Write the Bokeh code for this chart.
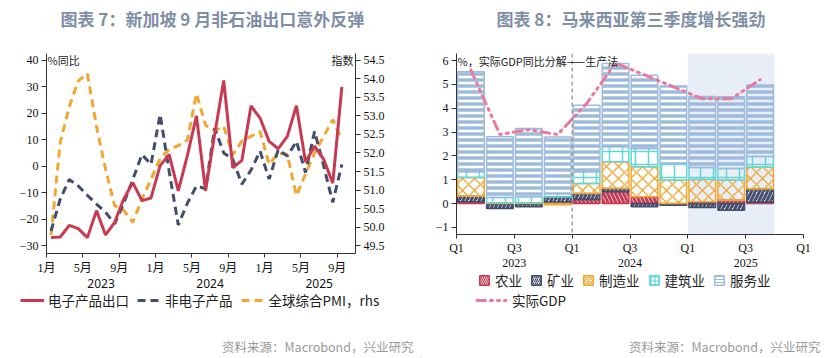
from bokeh.plotting import figure
from bokeh.models import (Range1d, LinearAxis, FixedTicker, Legend, LegendItem, Label, Span,
                          BoxAnnotation, NumeralTickFormatter, ColumnDataSource)
from bokeh.layouts import row, column
from bokeh.embed import file_html
from bokeh.resources import INLINE

SERIF = "'Liberation Serif', 'Noto Sans CJK SC'"
CJK = "'Noto Sans CJK SC'"
TITLE_COLOR = "#7f8fa6"
SRC_COLOR = "#9a9a9a"
AXIS_COLOR = "#333333"

# ---------------- Chart 7 data: Singapore non-oil exports ----------------
months = [f"{y}-{m:02d}" for y in (2023, 2024, 2025) for m in range(1, 13)][:33]
electronics = [-27, -26.8, -22.4, -23.6, -27, -16.8, -26, -21.2, -12.4, -6.2, -13, -12,
               0.2, 4.4, -9.3, 4, 19, -9.3, 12, 32.4, -0.6, 2.2, 22.8, 18.2,
               9.4, 6.6, 11.3, 22.9, 1.6, 7.6, 2.6, -6.4, 30]
non_electronics = [-24.5, -12.5, -5, -7.5, -11, -14.3, -17.4, -21.8, -14, -5, 4.4, 0.7,
                   19.6, -2, -22.2, -14, -7.5, -8.5, 14.4, 5, 2.6, -6.8, -1.5, 5.7,
                   -4.9, 6.3, 3.8, 9.4, -2.4, 13.2, 0.1, -13.7, 0.7]
global_pmi = [49.78, 52.27, 53.25, 53.95, 54.14, 52.72, 51.56, 50.58, 50.45, 50.13, 50.75, 51.29,
              51.85, 52.1, 52.2, 52.35, 53.6, 52.75, 52.6, 52.72, 51.95, 52.32, 52.45, 52.58,
              51.69, 52.0, 51.96, 50.85, 51.43, 52.0, 52.45, 52.9, 52.36]
month_tick_labels = ["1月", "5月", "9月"]
years7 = ["2023", "2024", "2025"]
left_ticks7 = [-30, -20, -10, 0, 10, 20, 30, 40]
right_ticks7 = [49.5, 50.0, 50.5, 51.0, 51.5, 52.0, 52.5, 53.0, 53.5, 54.0, 54.5]

# ---------------- Chart 8 data: Malaysia GDP by production ----------------
quarters = ["2023Q1", "2023Q2", "2023Q3", "2023Q4", "2024Q1", "2024Q2", "2024Q3", "2024Q4",
            "2025Q1", "2025Q2", "2025Q3"]
agriculture = [0.07, -0.03, -0.03, 0.05, 0.17, 0.49, 0.28, -0.05, 0.07, 0.14, 0.05]
mining = [0.24, -0.18, -0.11, 0.22, 0.25, 0.14, -0.14, -0.02, -0.17, -0.28, 0.56]
manufacturing = [0.78, 0.03, 0.03, -0.05, 0.42, 1.12, 1.26, 0.98, 0.94, 0.84, 0.91]
construction = [0.24, 0.22, 0.25, 0.14, 0.49, 0.63, 0.77, 0.70, 0.50, 0.49, 0.45]
services = [4.20, 2.55, 2.87, 2.38, 2.80, 3.50, 3.08, 3.26, 2.98, 3.01, 3.01]
real_gdp = [5.6, 2.9, 3.1, 2.9, 4.2, 5.9, 5.4, 4.9, 4.4, 4.4, 5.2]
q_tick_labels = ["Q1", "Q3"]
years8 = ["2023", "2024", "2025"]
y_ticks8 = [-1, 0, 1, 2, 3, 4, 5, 6]

RED = "#c73a52"
NAVY = "#434e6c"
ORANGE = "#f0a832"
CYAN = "#62d6d6"
LBLUE = "#9fbbdc"
PINK = "#e87a9f"

SECTOR_STYLE = [("农业", agriculture, RED, "left_diagonal_line", 8, 3),
                ("矿业", mining, NAVY, "right_diagonal_line", 8, 3),
                ("制造业", manufacturing, ORANGE, "diagonal_cross", 12, 1.3),
                ("建筑业", construction, CYAN, "cross", 13, 1.5),
                ("服务业", services, LBLUE, "horizontal_line", 6, 3.5)]


def style_axis(ax, font=SERIF, size="12px"):
    ax.axis_line_color = AXIS_COLOR
    ax.major_tick_line_color = AXIS_COLOR
    ax.minor_tick_line_color = None
    ax.minor_tick_out = 0
    ax.minor_tick_in = 0
    ax.major_tick_in = 0
    ax.major_tick_out = 5
    ax.major_label_text_font = font
    ax.major_label_text_font_size = size
    ax.major_label_text_color = "#111111"
    ax.major_label_standoff = 3


def year_axis(ticks, labels, font):
    ax = LinearAxis(ticker=FixedTicker(ticks=ticks),
                    major_label_overrides={t: l for t, l in zip(ticks, labels)})
    style_axis(ax, font=font, size="12px")
    ax.axis_line_color = None
    ax.major_tick_line_color = None
    ax.major_tick_out = 0
    ax.major_label_standoff = 1
    return ax


def blank_fig(h):
    f = figure(width=420, height=h, output_backend="svg", toolbar_location=None,
               x_range=Range1d(0, 420), y_range=Range1d(0, h),
               x_axis_type=None, y_axis_type=None,
               min_border_left=0, min_border_right=0, min_border_top=0, min_border_bottom=0)
    f.frame_align = False
    f.outline_line_color = None
    f.grid.visible = False
    return f


def title_fig(text, x):
    f = blank_fig(40)
    f.add_layout(Label(x=x, y=22, text=text, text_align="left", text_baseline="middle",
                       text_font=CJK, text_font_size="17px", text_font_style="bold",
                       text_color=TITLE_COLOR))
    return f


def add_source(f, x, y):
    f.add_layout(Label(x=x, y=y, text="资料来源：Macrobond，兴业研究", text_align="right",
                       text_baseline="middle", text_font=CJK, text_font_size="12.5px",
                       text_color=SRC_COLOR))


def make_legend(items, loc, **kw):
    return Legend(items=items, orientation="horizontal", location=loc,
                  background_fill_alpha=0, border_line_alpha=0, padding=0, margin=0,
                  label_text_font=CJK, label_text_font_size="13.5px",
                  label_text_color="#222222", **kw)


# hidden legend-key glyphs sit outside the blank panels' visible ranges
KEY_X = [-60, -50]
KEY_Y = [-60, -60]

# ================= Figure 7 =================
x7 = [(int(m[:4]) - 2023) * 12 + int(m[5:]) - 1 + 0.5 for m in months]
p1 = figure(width=420, height=250, output_backend="svg", toolbar_location=None,
            x_range=Range1d(0, 34), y_range=Range1d(-33, 42.6),
            min_border_left=46, min_border_right=65, min_border_top=13, min_border_bottom=35)
p1.outline_line_color = None
p1.grid.visible = False
p1.extra_y_ranges = {"pmi": Range1d(49.286, 54.686)}

p1.yaxis.ticker = FixedTicker(ticks=left_ticks7)
style_axis(p1.yaxis[0])
rax = LinearAxis(y_range_name="pmi", ticker=FixedTicker(ticks=right_ticks7),
                 formatter=NumeralTickFormatter(format="0.0"))
style_axis(rax)
p1.add_layout(rax, "right")

xt7 = [4 * k for k in range(9)]
p1.xaxis.ticker = FixedTicker(ticks=xt7)
p1.xaxis.major_label_overrides = {t: month_tick_labels[k % 3] for k, t in enumerate(xt7)}
style_axis(p1.xaxis[0])
p1.xaxis.major_tick_out = 4
p1.add_layout(year_axis([6, 18, 30], years7, "'Noto Sans', 'Liberation Sans'"), "below")

p1.line(x7, global_pmi, y_range_name="pmi", line_color=ORANGE, line_width=3, line_dash="8 5")
p1.line(x7, non_electronics, line_color=NAVY, line_width=3, line_dash="8 5")
p1.line(x7, electronics, line_color=RED, line_width=3)

p1.add_layout(Label(x=0, y=40, text="%同比", x_offset=1, text_baseline="middle",
                    text_font=CJK, text_font_size="11px", text_color="#222222"))
p1.add_layout(Label(x=34, y=54.5, y_range_name="pmi", text="指数", x_offset=-2,
                    text_align="right", text_baseline="middle",
                    text_font=CJK, text_font_size="11px", text_color="#222222"))

t1 = title_fig("图表 7：新加坡 9 月非石油出口意外反弹", 60)

b1 = blank_fig(68)
d_el = b1.line(KEY_X, KEY_Y, line_color=RED, line_width=3)
d_ne = b1.line(KEY_X, KEY_Y, line_color=NAVY, line_width=3, line_dash="8 5")
d_pmi = b1.line(KEY_X, KEY_Y, line_color=ORANGE, line_width=3, line_dash="8 5")
b1.add_layout(make_legend([LegendItem(label="电子产品出口", renderers=[d_el]),
                           LegendItem(label="非电子产品", renderers=[d_ne]),
                           LegendItem(label="全球综合PMI，rhs", renderers=[d_pmi])],
                          loc=(20, 48), spacing=8, glyph_width=24, glyph_height=14,
                          label_height=16, label_standoff=4))
add_source(b1, 413, 12)

# ================= Figure 8 =================
x8 = [(int(q[:4]) - 2023) * 4 + int(q[5:]) - 1 + 0.5 for q in quarters]
p2 = figure(width=420, height=229, output_backend="svg", toolbar_location=None,
            x_range=Range1d(0, 12), y_range=Range1d(-1.3, 6.3),
            min_border_left=36, min_border_right=37, min_border_top=13, min_border_bottom=35)
p2.outline_line_color = None
p2.grid.visible = False

p2.add_layout(BoxAnnotation(left=8, right=11, fill_color="#e8eef8", fill_alpha=1,
                            line_alpha=0, level="underlay"))
p2.add_layout(Span(location=4, dimension="height", line_color="#777777",
                   line_dash="4 3", line_width=1))

p2.yaxis.ticker = FixedTicker(ticks=y_ticks8)
style_axis(p2.yaxis[0])
xt8 = [2 * k for k in range(7)]
p2.xaxis.ticker = FixedTicker(ticks=xt8)
p2.xaxis.major_label_overrides = {t: q_tick_labels[k % 2] for k, t in enumerate(xt8)}
style_axis(p2.xaxis[0])
p2.xaxis.major_tick_out = 4
p2.xaxis.major_label_standoff = 2
p2.add_layout(year_axis([2, 6, 10], years8, SERIF), "below")

pos = [0.0] * len(quarters)
neg = [0.0] * len(quarters)
for name, vals, col, hatch, hscale, hweight in SECTOR_STYLE:
    bottoms, tops = [], []
    for j, v in enumerate(vals):
        if v >= 0:
            b = pos[j]; t = b + v; pos[j] = t
        else:
            t = neg[j]; b = t + v; neg[j] = b
        bottoms.append(b); tops.append(t)
    src = ColumnDataSource(dict(x=x8, bottom=bottoms, top=tops))
    p2.vbar(x="x", width=0.92, bottom="bottom", top="top", source=src,
            fill_color="white", fill_alpha=0, line_color=col, line_width=1.5,
            hatch_pattern=hatch, hatch_color=col, hatch_scale=hscale, hatch_weight=hweight)

p2.line(x8, real_gdp, line_color=PINK, line_width=3, line_dash="9 5 2 5 2 5", line_cap="round")

p2.add_layout(Label(x=0, y=6, text="%，实际GDP同比分解——生产法", x_offset=1,
                    text_baseline="middle", text_font=CJK, text_font_size="11px",
                    text_color="#222222"))

t2 = title_fig("图表 8：马来西亚第三季度增长强劲", 76)

b2 = blank_fig(89)
sector_items = []
for name, vals, col, hatch, hscale, hweight in SECTOR_STYLE:
    d = b2.vbar(x=KEY_X[:1], width=1, top=KEY_Y[:1], bottom=[-70], fill_color="white",
                fill_alpha=0, line_color=col, line_width=1.5, hatch_pattern=hatch,
                hatch_color=col, hatch_scale=4 if hscale > 6 else 3, hatch_weight=1.2)
    sector_items.append(LegendItem(label=name, renderers=[d]))
d_gdp = b2.line(KEY_X, KEY_Y, line_color=PINK, line_width=3, line_dash="9 5 2 5 2 5",
                line_cap="round")
b2.add_layout(make_legend(sector_items, loc=(58, 68), spacing=8, glyph_width=12,
                          glyph_height=12, label_height=16, label_standoff=5))
b2.add_layout(make_legend([LegendItem(label="实际GDP", renderers=[d_gdp])], loc=(56, 48),
                          glyph_width=31, glyph_height=14, label_height=16, label_standoff=5))
add_source(b2, 400, 12)

layout = row(column(t1, p1, b1, spacing=0), column(t2, p2, b2, spacing=0), spacing=0)
open("out.html", "w").write(file_html(layout, INLINE))
